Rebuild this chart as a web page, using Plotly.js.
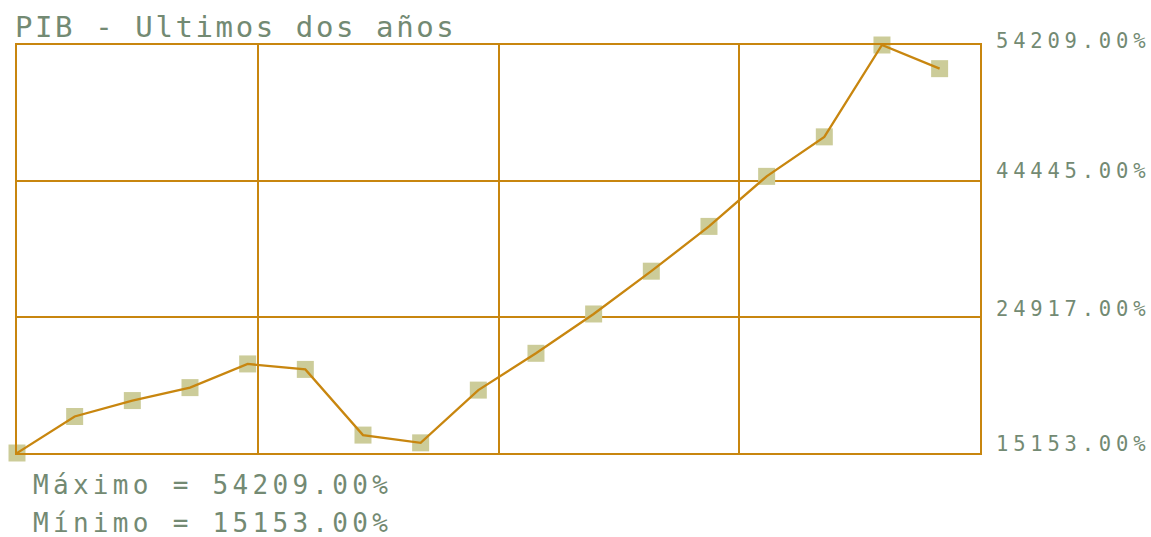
<!DOCTYPE html>
<html>
<head>
<meta charset="utf-8">
<script src="https://cdn.plot.ly/plotly-3.0.1.min.js"></script>
<style>
  html, body { margin: 0; padding: 0; background: #ffffff; }
  #chart { width: 1151px; height: 537px; }
  g.annotation[data-index="0"] text { letter-spacing: 2.6px; }
  g.annotation[data-index="1"] text,
  g.annotation[data-index="2"] text,
  g.annotation[data-index="3"] text,
  g.annotation[data-index="4"] text { letter-spacing: 4.8px; }
  g.annotation[data-index="5"] text,
  g.annotation[data-index="6"] text { letter-spacing: 4.3px; }
</style>
</head>
<body>
<div id="chart"></div>
<script>
// ---- data ----
const chartTitle = "PIB - Ultimos dos años";
const periods = [0, 1, 2, 3, 4, 5, 6, 7, 8, 9, 10, 11, 12, 13, 14, 15, 16];
const pibValues = [15153, 18649, 20173, 21412, 23679, 23155, 16868, 16125, 21173,
                   24698, 28461, 32557, 36844, 41635, 45417, 54209, 51943];
const yTickText = ["15153.00%", "24917.00%", "44445.00%", "54209.00%"];
const maxLabel = "Máximo";
const minLabel = "Mínimo";

// ---- styling ----
const lineColor = "#c8860f";
const markerColor = "#cccc99";
const textColor = "#738a73";
const fontFam = "DejaVu Sans Mono, monospace";

const yMin = Math.min(...pibValues);
const yMax = Math.max(...pibValues);
const ySpan = yMax - yMin;
const yTicks = [yMin, yMin + ySpan / 3, yMin + 2 * ySpan / 3, yMax];
const xRange = [0, (periods.length - 1) * 1.04375];
const xTicks = [1, 2, 3].map(k => xRange[0] + (xRange[1] - xRange[0]) * k / 4);

const traces = [
  {
    x: periods, y: pibValues, type: "scatter", mode: "markers",
    marker: { symbol: "square", size: 17, color: markerColor, line: { width: 0 } },
    cliponaxis: false, hoverinfo: "skip", showlegend: false
  },
  {
    x: periods, y: pibValues, type: "scatter", mode: "lines",
    line: { color: lineColor, width: 2.3 },
    cliponaxis: false, hoverinfo: "skip", showlegend: false
  }
];

const yShifts = [9, 8, 10, 4];
const annotations = [
  {
    text: chartTitle, xref: "paper", yref: "paper", x: 0, y: 1,
    xanchor: "left", yanchor: "bottom", align: "left", xshift: -4, yshift: -1,
    showarrow: false, font: { family: fontFam, size: 29, color: textColor }
  }
];
yTicks.forEach((v, i) => {
  annotations.push({
    text: yTickText[i], xref: "paper", yref: "y", x: 1, y: v,
    xanchor: "left", yanchor: "middle", align: "left", xshift: 14, yshift: yShifts[i],
    showarrow: false, font: { family: fontFam, size: 20.5, color: textColor }
  });
});
annotations.push({
  text: maxLabel + " = " + yMax.toFixed(2) + "%", xref: "paper", yref: "paper", x: 0, y: 0,
  xanchor: "left", yanchor: "middle", align: "left", xshift: 14, yshift: -32,
  showarrow: false, font: { family: fontFam, size: 26, color: textColor }
});
annotations.push({
  text: minLabel + " = " + yMin.toFixed(2) + "%", xref: "paper", yref: "paper", x: 0, y: 0,
  xanchor: "left", yanchor: "middle", align: "left", xshift: 14, yshift: -70,
  showarrow: false, font: { family: fontFam, size: 26, color: textColor }
});

const layout = {
  width: 1151, height: 537,
  margin: { l: 17, r: 171, t: 45, b: 84 },
  paper_bgcolor: "#ffffff", plot_bgcolor: "#ffffff",
  showlegend: false,
  xaxis: {
    range: xRange, tickvals: xTicks, showticklabels: false, ticks: "",
    showgrid: true, gridcolor: lineColor, gridwidth: 2, zeroline: false,
    showline: true, linecolor: lineColor, linewidth: 2, mirror: true, fixedrange: true
  },
  yaxis: {
    range: [yMin, yMax], tickvals: yTicks, showticklabels: false, ticks: "",
    showgrid: true, gridcolor: lineColor, gridwidth: 2, zeroline: false,
    showline: true, linecolor: lineColor, linewidth: 2, mirror: true, fixedrange: true
  },
  annotations: annotations
};

Plotly.newPlot("chart", traces, layout, { staticPlot: true, displayModeBar: false });
</script>
</body>
</html>
